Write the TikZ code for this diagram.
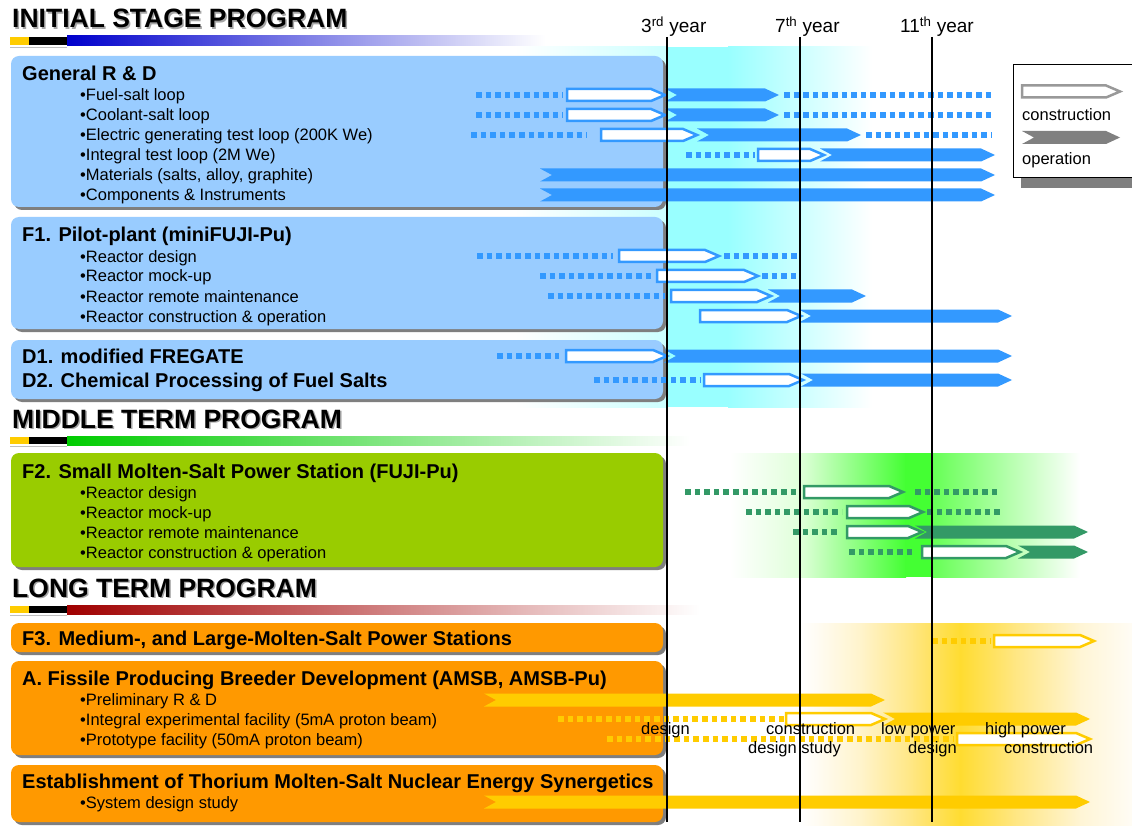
\documentclass[tikz,border=0pt]{standalone}
\usepackage{fontspec}
\setmainfont{Liberation Sans}
\definecolor{boxblue}{HTML}{99CCFF}
\definecolor{boxgreen}{HTML}{99CC00}
\definecolor{boxorange}{HTML}{FF9900}
\definecolor{arrblue}{HTML}{3399FF}
\definecolor{arrgreen}{HTML}{339966}
\definecolor{arryellow}{HTML}{FFCC00}
\definecolor{bandcyan}{HTML}{99FFFF}
\definecolor{bandcyanL}{HTML}{CCFFFF}
\definecolor{bandgreenP}{HTML}{E0FFDA}
\definecolor{bandgreen}{HTML}{44FF33}
\definecolor{bandgreenB}{HTML}{66FF55}
\definecolor{bandyelA}{HTML}{FFFBF0}
\definecolor{bandyelP}{HTML}{FFF3C8}
\definecolor{bandyelM}{HTML}{FFE680}
\definecolor{bandyelB}{HTML}{FFDC30}
\definecolor{bandyelE}{HTML}{FFF5D5}
\definecolor{bandyelZ}{HTML}{FFFCF5}
\definecolor{hdrblue}{HTML}{0000CC}
\definecolor{hdrgreen}{HTML}{00CC00}
\definecolor{hdrred}{HTML}{A00000}
\definecolor{shadowgray}{HTML}{7F7F7F}
\definecolor{leggrayA}{HTML}{999999}
\definecolor{leggrayB}{HTML}{808080}
% construction arrow: x1, x2, y, colour
\newcommand\cArr[4]{\draw[#4, line width=2.5pt, fill=white, line join=miter] (#1,#3-6) -- (#2-14,#3-6) -- (#2,#3) -- (#2-14,#3+6) -- (#1,#3+6) -- cycle;}
% operation arrow: x1, x2, y, colour
\newcommand\oArr[4]{\fill[#4] (#1,#3-6.5) -- (#2-14,#3-6.5) -- (#2,#3) -- (#2-14,#3+6.5) -- (#1,#3+6.5) -- (#1+12,#3) -- cycle;}
% dotted lead: x1, x2, y, colour
\newcommand\dArr[4]{\draw[#4, line width=5.2pt, dash pattern=on 5.6pt off 4pt] (#1,#3) -- (#2,#3);}
\begin{document}
\begin{tikzpicture}[x=1pt,y=-1pt,
  hdr/.style={font=\fontsize{26.5}{30}\selectfont\bfseries, inner sep=0pt, anchor=base west},
  ttl/.style={font=\fontsize{20}{23}\selectfont\bfseries, inner sep=0pt, anchor=base west},
  itm/.style={font=\fontsize{16.5}{19}\selectfont, inner sep=0pt, anchor=base west},
  yr/.style={font=\fontsize{19}{22}\selectfont, inner sep=0pt, anchor=base west},
  lab/.style={font=\fontsize{16.5}{19}\selectfont, inner sep=0pt, anchor=base west},
  shadowbox/.style={fill=shadowgray, rounded corners=8pt},
  prgbox/.style={rounded corners=8pt}]
\clip (0,0) rectangle (1132,826);
\fill[white] (0,0) rectangle (1132,826);
% ---------------- background bands
\shade[left color=white, right color=bandcyanL] (515,47) rectangle (667,407);
\fill[bandcyan] (667,47) rectangle (728,407);
\shade[left color=bandcyan, right color=white] (728,47) rectangle (872,407);
\shade[left color=white, right color=bandgreenP] (730,453) rectangle (800,577);
\shade[left color=bandgreenP, right color=bandgreen] (800,453) rectangle (906,577);
\fill[bandgreen] (905,453) rectangle (933,577);
\shade[left color=bandgreenB, right color=white] (932,453) rectangle (1080,577);
\shade[left color=white, right color=bandyelA] (800,623) rectangle (821,826);
\shade[left color=bandyelA, right color=bandyelP] (820,623) rectangle (864,826);
\shade[left color=bandyelP, right color=bandyelM] (863,623) rectangle (914,826);
\shade[left color=bandyelM, right color=bandyelB] (913,623) rectangle (961,826);
\shade[left color=bandyelB, right color=bandyelM] (960,623) rectangle (1014,826);
\shade[left color=bandyelM, right color=bandyelE] (1013,623) rectangle (1081,826);
\shade[left color=bandyelE, right color=bandyelZ] (1080,623) rectangle (1132,826);
% ---------------- headers
\node[hdr, text=black!35] at (13.5,29.5) {INITIAL STAGE PROGRAM};
\node[hdr] (hInit) at (12,28) {INITIAL STAGE PROGRAM};
\fill[arryellow] (10,37) rectangle (29,45);
\fill[black] (29,37) rectangle (67,45);
\draw[black!25, line width=0.8pt] (10,47) -- (67,47);
\shade[left color=hdrblue, right color=white] (67,36) rectangle (545,46);
\node[hdr, text=black!35] at (13.5,429.5) {MIDDLE TERM PROGRAM};
\node[hdr] (hMid) at (12,428) {MIDDLE TERM PROGRAM};
\fill[arryellow] (10,437) rectangle (29,444);
\fill[black] (29,437) rectangle (67,444);
\draw[black!25, line width=0.8pt] (10,446) -- (67,446);
\shade[left color=hdrgreen, right color=white] (67,436) rectangle (690,445);
\node[hdr, text=black!35] at (13.5,598.5) {LONG TERM PROGRAM};
\node[hdr] (hLong) at (12,597) {LONG TERM PROGRAM};
\fill[arryellow] (10,606) rectangle (29,613);
\fill[black] (29,606) rectangle (67,613);
\draw[black!25, line width=0.8pt] (10,615) -- (67,615);
\shade[left color=hdrred, right color=white] (67,605) rectangle (700,614);
% ---------------- boxes
\fill[shadowbox] (14,59) rectangle (666,210);
\fill[prgbox, boxblue] (11,56) rectangle (663,207);
\fill[shadowbox] (14,220) rectangle (666,332);
\fill[prgbox, boxblue] (11,217) rectangle (663,329);
\fill[shadowbox] (14,343) rectangle (666,402);
\fill[prgbox, boxblue] (11,340) rectangle (663,399);
\fill[shadowbox] (14,456) rectangle (666,570);
\fill[prgbox, boxgreen] (11,453) rectangle (663,567);
\fill[shadowbox] (14,626) rectangle (666,655);
\fill[prgbox, boxorange] (11,623) rectangle (663,652);
\fill[shadowbox] (14,664) rectangle (666,758);
\fill[prgbox, boxorange] (11,661) rectangle (663,755);
\fill[shadowbox] (14,768) rectangle (666,825);
\fill[prgbox, boxorange] (11,765) rectangle (663,822);
% ---------------- box texts
\node[ttl] (tGen) at (22,81) {General R \& D};
\node[itm] (g1) at (80,101) {•Fuel-salt loop};
\node[itm] (g2) at (80,121) {•Coolant-salt loop};
\node[itm] (g3) at (80,141) {•Electric generating test loop (200K We)};
\node[itm] (g4) at (80,161) {•Integral test loop (2M We)};
\node[itm] (g5) at (80,181) {•Materials (salts, alloy, graphite)};
\node[itm] (g6) at (80,201) {•Components \& Instruments};
\node[ttl] (tF1) at (22,242) {F1. Pilot-plant (miniFUJI-Pu)};
\node[itm] (f11) at (80,262) {•Reactor design};
\node[itm] (f12) at (80,282) {•Reactor mock-up};
\node[itm] (f13) at (80,302) {•Reactor remote maintenance};
\node[itm] (f14) at (80,322) {•Reactor construction \& operation};
\node[ttl] (tD1) at (22,363) {D1. modified FREGATE};
\node[ttl] (tD2) at (22,387) {D2. Chemical Processing of Fuel Salts};
\node[ttl] (tF2) at (22,478) {F2. Small Molten-Salt Power Station (FUJI-Pu)};
\node[itm] (f21) at (80,498) {•Reactor design};
\node[itm] (f22) at (80,518) {•Reactor mock-up};
\node[itm] (f23) at (80,538) {•Reactor remote maintenance};
\node[itm] (f24) at (80,558) {•Reactor construction \& operation};
\node[ttl] (tF3) at (22,645) {F3. Medium-, and Large-Molten-Salt Power Stations};
\node[ttl] (tA) at (22,685) {A. Fissile Producing Breeder Development (AMSB, AMSB-Pu)};
\node[itm] (a1) at (80,705) {•Preliminary R \& D};
\node[itm] (a2) at (80,725) {•Integral experimental facility (5mA proton beam)};
\node[itm] (a3) at (80,745) {•Prototype facility (50mA proton beam)};
\node[ttl] (tE) at (22,788) {Establishment of Thorium Molten-Salt Nuclear Energy Synergetics};
\node[itm] (e1) at (80,808) {•System design study};
% ---------------- General R&D bars
\oArr{665}{779}{95}{arrblue}  \cArr{567}{665}{95}{arrblue}  \dArr{476}{563}{95}{arrblue}  \dArr{784}{991}{95}{arrblue}
\oArr{665}{779}{115}{arrblue} \cArr{567}{665}{115}{arrblue} \dArr{476}{563}{115}{arrblue} \dArr{784}{991}{115}{arrblue}
\oArr{697}{861}{135}{arrblue} \cArr{601}{697}{135}{arrblue} \dArr{471}{587}{135}{arrblue} \dArr{866}{991}{135}{arrblue}
\oArr{820}{995}{155}{arrblue} \cArr{758}{824}{155}{arrblue} \dArr{686}{755}{155}{arrblue}
\oArr{540}{995}{175}{arrblue}
\oArr{540}{995}{195}{arrblue}
% ---------------- F1 bars
\dArr{477}{613}{256}{arrblue} \cArr{619}{719}{256}{arrblue} \dArr{724}{799}{256}{arrblue}
\dArr{540}{654}{276}{arrblue} \cArr{657}{758}{276}{arrblue} \dArr{762}{796}{276}{arrblue}
\dArr{548}{665}{296}{arrblue} \oArr{768}{866}{296}{arrblue} \cArr{671}{771}{296}{arrblue}
\oArr{799}{1012}{316}{arrblue} \cArr{700}{801}{316}{arrblue}
% ---------------- D bars
\dArr{497}{559}{356}{arrblue} \oArr{664}{1012}{356}{arrblue} \cArr{566}{667}{356}{arrblue}
\dArr{594}{701}{380}{arrblue} \oArr{801}{1012}{380}{arrblue} \cArr{704}{803}{380}{arrblue}
% ---------------- F2 bars
\dArr{685}{797}{492}{arrgreen} \cArr{804}{903}{492}{arrgreen} \dArr{915}{1000}{492}{arrgreen}
\dArr{746}{842}{512}{arrgreen} \cArr{847}{923}{512}{arrgreen} \dArr{927}{1003}{512}{arrgreen}
\dArr{793}{838}{532}{arrgreen} \oArr{915}{1088}{532}{arrgreen} \cArr{847}{922}{532}{arrgreen}
\dArr{849}{915}{552}{arrgreen} \oArr{1018}{1088}{552}{arrgreen} \cArr{922}{1020}{552}{arrgreen}
% ---------------- long-term bars
\dArr{932}{991}{641}{arryellow} \cArr{994}{1094}{641}{arryellow}
\oArr{484}{885}{700}{arryellow}
\dArr{558}{784}{719}{arryellow} \oArr{883}{1090}{719}{arryellow} \cArr{786}{885}{719}{arryellow}
\dArr{607}{954}{739}{arryellow} \cArr{957}{1090}{739}{arryellow}
\oArr{484}{1090}{802}{arryellow}
% ---------------- year lines
\coordinate (y3t) at (667,37);  \coordinate (y3b) at (667,822);
\coordinate (y7t) at (800,37);  \coordinate (y7b) at (800,822);
\coordinate (y11t) at (932,37); \coordinate (y11b) at (932,822);
\draw[black, line width=1.3pt] (y3t) -- (y3b);
\draw[black, line width=1.3pt] (y7t) -- (y7b);
\draw[black, line width=1.3pt] (y11t) -- (y11b);
\node[yr] (l3) at (641,33) {3\textsuperscript{rd} year};
\node[yr] (l7) at (775,33) {7\textsuperscript{th} year};
\node[yr] (l11) at (900,33) {11\textsuperscript{th} year};
% ---------------- phase labels
\node[lab] (p1) at (641,734) {design};
\node[lab] (p2) at (766,734) {construction};
\node[lab] (p3) at (881,734) {low power};
\node[lab] (p4) at (985,734) {high power};
\node[lab] (p5) at (748,753) {design study};
\node[lab] (p6) at (908,753) {design};
\node[lab] (p7) at (1004,753) {construction};
% ---------------- legend
\fill[shadowgray] (1021,73) rectangle (1140,188);
\draw[black, line width=1pt, fill=white] (1013,65) rectangle (1140,178);
\cArr{1022}{1120}{91.5}{leggrayA}
\oArr{1022}{1120}{137.5}{leggrayB}
\node[lab] (lc) at (1022,121) {construction};
\node[lab] (lo) at (1022,164.5) {operation};
\end{tikzpicture}
\end{document}
